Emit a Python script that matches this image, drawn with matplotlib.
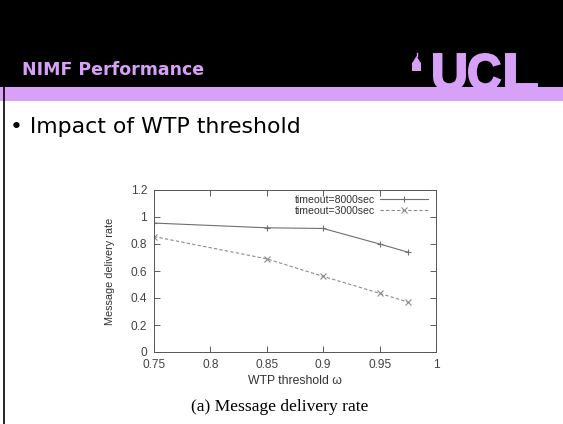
import matplotlib.pyplot as plt
from matplotlib.patches import Rectangle, PathPatch, Polygon
from matplotlib.lines import Line2D
from matplotlib.textpath import TextPath
from matplotlib.font_manager import FontProperties
from matplotlib.transforms import Affine2D
from matplotlib.ticker import FuncFormatter

# data
threshold = [0.75, 0.85, 0.9, 0.95, 0.975]
rate_8000 = [0.955, 0.92, 0.915, 0.80, 0.74]
rate_3000 = [0.855, 0.69, 0.56, 0.435, 0.37]
x_ticks = [0.75, 0.8, 0.85, 0.9, 0.95, 1.0]
y_ticks = [0, 0.2, 0.4, 0.6, 0.8, 1.0, 1.2]

W, H = 563, 424
purple = '#d7a1f7'

fig = plt.figure(figsize=(W / 100, H / 100), dpi=100)

# slide header
fig.patches.append(Rectangle((0, 1 - 87 / H), 1, 87 / H, transform=fig.transFigure,
                             facecolor='black', edgecolor='none', zorder=0))
fig.add_artist(Line2D([3.5 / W, 3.5 / W], [0, 1 - 87 / H], transform=fig.transFigure,
                      color='black', lw=1.2))
fig.text(22 / W, 1 - 70 / H, 'NIMF Performance', color=purple, fontsize=12.5,
         fontweight='bold', family='DejaVu Sans', va='center')

# UCL logo, one letter at a time so the gaps stay open (pixels: x 433-538, top 53)
logo_font = FontProperties(family='Liberation Sans', weight='bold')
letter_x = [434, 469, 506]
for ch, x0 in zip('UCL', letter_x):
    tp = TextPath((0, 0), ch, size=1, prop=logo_font)
    ext = tp.get_extents()
    tf = Affine2D().translate(-ext.x0, -ext.y0).scale(31 / ext.width, 36 / ext.height)
    fig.add_artist(PathPatch(tp, transform=tf.translate(x0, H - 90),
                             facecolor=purple, edgecolor=purple, lw=1.4))
# small building icon: dome on top of a columned base
fig.add_artist(Polygon([(412, H - 71), (421, H - 71), (421, H - 63), (419.5, H - 61),
                        (416.5, H - 56), (413.5, H - 61), (412, H - 63)],
                       closed=True, transform=Affine2D(), facecolor=purple, edgecolor='none'))
fig.add_artist(Line2D([416.5, 416.5], [H - 56, H - 53], transform=Affine2D(),
                      color=purple, lw=1))

fig.patches.append(Rectangle((0, 1 - 101 / H), 1, 14 / H, transform=fig.transFigure,
                             facecolor=purple, edgecolor='none', zorder=0))

fig.text(10 / W, 1 - 127 / H, '\u2022 Impact of WTP threshold', fontsize=15.8,
         family='DejaVu Sans', va='center')

# chart
ax = fig.add_axes([154 / W, 72 / H, 282 / W, 162 / H])
ax.plot(threshold, rate_8000, color='#707070', lw=0.8, marker='+', ms=5, mew=0.8,
        label='timeout=8000sec')
ax.plot(threshold, rate_3000, color='#8c8c8c', lw=0.8, ls=(0, (3, 2)), marker='x', ms=4,
        mew=0.8, label='timeout=3000sec')
ax.set_xlim(0.75, 1.0)
ax.set_ylim(0, 1.2)
ax.set_xticks(x_ticks)
ax.set_yticks(y_ticks)
ax.xaxis.set_major_formatter(FuncFormatter(lambda v, p: f'{v:g}'))
ax.yaxis.set_major_formatter(FuncFormatter(lambda v, p: f'{v:g}'))
ax.tick_params(direction='in', top=True, right=True, length=4, width=0.6,
               labelsize=8.6, colors='#444444', pad=5)
ax.tick_params(axis='x', pad=5)
for s in ax.spines.values():
    s.set_color('#555555')
    s.set_linewidth(0.7)
ax.set_xlabel('WTP threshold \u03c9', fontsize=8.8, family='Liberation Sans', labelpad=3,
              color='#333333')
ax.set_ylabel('Message delivery rate', fontsize=7.8, family='Liberation Sans', labelpad=11,
              color='#333333')
for t in ax.get_xticklabels() + ax.get_yticklabels():
    t.set_family('Liberation Sans')
leg = ax.legend(loc='upper right', bbox_to_anchor=(0.985, 0.995), frameon=False,
                markerfirst=False, handlelength=4.5, labelspacing=0.1, borderaxespad=0.0,
                handletextpad=0.5, prop={'family': 'Liberation Sans', 'size': 7.6})
for t in leg.get_texts():
    t.set_color('#333333')

fig.text(280 / W, 1 - 407 / H, '(a) Message delivery rate', fontsize=12.6,
         family='Liberation Serif', ha='center', va='center')

fig.savefig('out.png', dpi=100)
